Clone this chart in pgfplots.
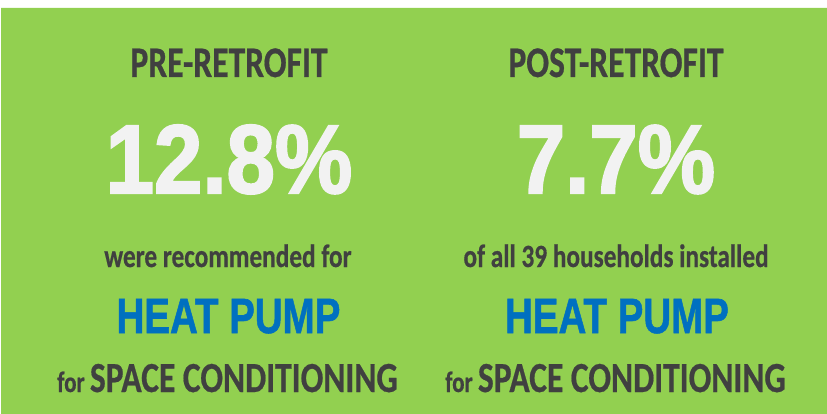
\documentclass[border=0pt]{standalone}
\usepackage{pgfplots}
\pgfplotsset{compat=1.18}
\usepackage{graphicx}
\usepackage{fontspec}
\setmainfont{Carlito}
\newfontfamily\calfont{Carlito}[BoldFeatures={FakeBold=0.6}]
\newfontfamily\arifont{Liberation Sans}[BoldFeatures={FakeBold=2.2}]
\newfontfamily\pumpfont{Liberation Sans}[BoldFeatures={FakeBold=1.2}]
\definecolor{bggreen}{HTML}{92D050}
\definecolor{darktxt}{HTML}{404040}
\definecolor{pumpblue}{HTML}{0070C0}
\definecolor{bigwhite}{HTML}{F2F2F2}

% sizes in pt: the picture is 827pt x 414pt, so 1pt = 1px of the reference
\newcommand{\hd}[1]{\scalebox{1}[1.3]{\calfont\bfseries\fontsize{33.6}{36}\selectfont #1}}
\newcommand{\bignum}[1]{\scalebox{1}[1.12]{\arifont\bfseries\fontsize{87}{90}\selectfont #1}}
\newcommand{\sub}[1]{\scalebox{1}[1.28]{\calfont\bfseries\fontsize{25.3}{27}\selectfont #1}}
\newcommand{\pump}[1]{\scalebox{1}[1.29]{\pumpfont\bfseries\fontsize{38.5}{40}\selectfont #1}}
\newcommand{\spc}{\scalebox{1}[1.28]{\calfont\bfseries{\fontsize{23}{25}\selectfont for }\fontsize{33.5}{36}\selectfont SPACE CONDITIONING}}

\begin{document}
\begin{tikzpicture}
\begin{axis}[
  width=827pt, height=414pt, scale only axis,
  xmin=0, xmax=827, ymin=0, ymax=414, y dir=reverse,
  axis lines=none, ticks=none, clip=false]
% green panel
\addplot[fill=bggreen, draw=none] coordinates {(1,8) (827,8) (827,414) (1,414) (1,8)};
\path[draw=none] (axis cs:0,0) rectangle (axis cs:827,414);
% left column
\node[anchor=base, text=darktxt, inner sep=0] at (axis cs:229,77) {\hd{PRE-RETROFIT}};
\node[anchor=base, text=bigwhite, inner sep=0] at (axis cs:229,193) {\bignum{12.8\%}};
\node[anchor=base, text=darktxt, inner sep=0] at (axis cs:228,267) {\sub{were recommended for}};
\node[anchor=base, text=pumpblue, inner sep=0] at (axis cs:228.5,333) {\pump{HEAT PUMP}};
\node[anchor=base, text=darktxt, inner sep=0] at (axis cs:227.5,392) {\spc};
% right column
\node[anchor=base, text=darktxt, inner sep=0] at (axis cs:616,77) {\hd{POST-RETROFIT}};
\node[anchor=base, text=bigwhite, inner sep=0] at (axis cs:616,193) {\bignum{7.7\%}};
\node[anchor=base, text=darktxt, inner sep=0] at (axis cs:616,267) {\sub{of all 39 households installed}};
\node[anchor=base, text=pumpblue, inner sep=0] at (axis cs:617,333) {\pump{HEAT PUMP}};
\node[anchor=base, text=darktxt, inner sep=0] at (axis cs:615.5,392) {\spc};
\end{axis}
\end{tikzpicture}
\end{document}
